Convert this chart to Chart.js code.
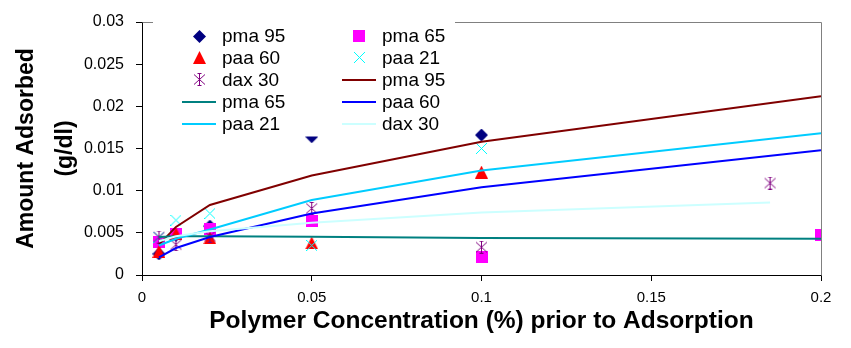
<!DOCTYPE html>
<html>
<head>
<meta charset="utf-8">
<script src="https://cdn.jsdelivr.net/npm/chart.js@4/dist/chart.umd.min.js"></script>
<style>
  html, body { margin: 0; padding: 0; background: #ffffff; }
  canvas { display: block; }
</style>
</head>
<body>
<canvas id="chart" width="851" height="348"></canvas>
<script>
// Measured adsorption (markers)
const ptsX      = [0.005, 0.01, 0.02, 0.05, 0.1];
const pma95Pts  = [0.0025, 0.0047, 0.0058, 0.0164, 0.0166];
const pma65X    = [0.005, 0.01, 0.02, 0.05, 0.1, 0.2];
const pma65Pts  = [0.0039, 0.0049, 0.0055, 0.0064, 0.0021, 0.0048];
const paa60Pts  = [0.0028, 0.0049, 0.0044, 0.0038, 0.0122];
const paa21Pts  = [0.0045, 0.0065, 0.0073, 0.0035, 0.0150];
const dax30X    = [0.005, 0.01, 0.02, 0.05, 0.1, 0.185];
const dax30Pts  = [0.0045, 0.0036, 0.0046, 0.0079, 0.0033, 0.0109];

// Fitted isotherms (lines)
const fitX      = [0.005, 0.01, 0.02, 0.05, 0.1, 0.2];
const pma95Fit  = [0.0036, 0.0057, 0.0083, 0.0118, 0.0158, 0.0212];
const pma65Fit  = [0.0045, 0.0046, 0.0046, 0.00455, 0.0044, 0.0043];
const paa60Fit  = [0.0021, 0.0032, 0.0045, 0.0073, 0.0104, 0.0148];
const paa21Fit  = [0.0035, 0.0043, 0.0054, 0.0089, 0.0124, 0.0168];
const dax30FitX = [0.005, 0.01, 0.02, 0.05, 0.1, 0.185];
const dax30Fit  = [0.0040, 0.0046, 0.0052, 0.0062, 0.0074, 0.0086];

// Axis ticks
const xTicks = [0, 0.05, 0.1, 0.15, 0.2];
const xTickLabels = ['0', '0.05', '0.1', '0.15', '0.2'];
const yTicks = [0, 0.005, 0.01, 0.015, 0.02, 0.025, 0.03];
const yTickLabels = ['0', '0.005', '0.01', '0.015', '0.02', '0.025', '0.03'];

const FONT = "'Liberation Sans', Arial, Helvetica, sans-serif";

// Marker bitmaps
function marker(kind, color) {
  const c = document.createElement('canvas');
  const g = c.getContext('2d');
  if (kind === 'diamond') {
    c.width = 13; c.height = 13;
    g.fillStyle = color;
    g.beginPath();
    g.moveTo(6.5, 0); g.lineTo(13, 6.5); g.lineTo(6.5, 13); g.lineTo(0, 6.5);
    g.closePath(); g.fill();
  } else if (kind === 'square') {
    c.width = 12; c.height = 12;
    g.fillStyle = color;
    g.fillRect(0, 0, 12, 12);
  } else if (kind === 'triangle') {
    c.width = 13; c.height = 13;
    g.fillStyle = color;
    g.beginPath();
    g.moveTo(6.5, 0); g.lineTo(13, 13); g.lineTo(0, 13);
    g.closePath(); g.fill();
  } else if (kind === 'x') {
    c.width = 11; c.height = 11;
    g.strokeStyle = color; g.lineWidth = 1;
    g.beginPath();
    g.moveTo(0, 0); g.lineTo(11, 11);
    g.moveTo(11, 0); g.lineTo(0, 11);
    g.stroke();
  } else if (kind === 'star') {
    c.width = 13; c.height = 13;
    g.strokeStyle = color; g.lineWidth = 1;
    g.beginPath();
    g.moveTo(6.5, 0); g.lineTo(6.5, 13);
    g.moveTo(1, 1.5); g.lineTo(12, 11.5);
    g.moveTo(12, 1.5); g.lineTo(1, 11.5);
    g.moveTo(4.5, 0.5); g.lineTo(8.5, 0.5);
    g.moveTo(4.5, 12.5); g.lineTo(8.5, 12.5);
    g.stroke();
  }
  return c;
}

function pts(xs, ys) { return xs.map((x, i) => ({ x: x, y: ys[i] })); }

function scatterSet(label, xs, ys, kind, color, order) {
  return {
    label: label, data: pts(xs, ys), showLine: false,
    pointStyle: marker(kind, color), pointRadius: 6, pointHoverRadius: 6,
    backgroundColor: color, borderColor: color, order: order,
    legendKind: 'marker'
  };
}
function lineSet(label, xs, ys, color, order) {
  return {
    label: label, data: pts(xs, ys), showLine: true, tension: 0,
    borderColor: color, backgroundColor: color, borderWidth: 2,
    pointRadius: 0, pointHoverRadius: 0, fill: false, order: order,
    legendKind: 'line'
  };
}

const datasets = [
  scatterSet('pma 95', ptsX, pma95Pts, 'diamond', '#000080', 10),
  scatterSet('pma 65', pma65X, pma65Pts, 'square', '#FF00FF', 9),
  scatterSet('paa 60', ptsX, paa60Pts, 'triangle', '#FF0000', 8),
  scatterSet('paa 21', ptsX, paa21Pts, 'x', '#00FFFF', 7),
  scatterSet('dax 30', dax30X, dax30Pts, 'star', '#800080', 6),
  lineSet('pma 95', fitX, pma95Fit, '#800000', 5),
  lineSet('pma 65', fitX, pma65Fit, '#008080', 4),
  lineSet('paa 60', fitX, paa60Fit, '#0000FF', 3),
  lineSet('paa 21', fitX, paa21Fit, '#00CCFF', 2),
  lineSet('dax 30', dax30FitX, dax30Fit, '#CCFFFF', 1)
];

// Gray frame on the top and right of the plot area
const frame = {
  id: 'frame',
  beforeDatasetsDraw(chart) {
    const { ctx, chartArea: a } = chart;
    ctx.save();
    ctx.strokeStyle = '#808080';
    ctx.lineWidth = 1;
    ctx.beginPath();
    ctx.moveTo(Math.round(a.left) + 0.5, Math.round(a.top) + 0.5);
    ctx.lineTo(Math.round(a.right) + 0.5, Math.round(a.top) + 0.5);
    ctx.lineTo(Math.round(a.right) + 0.5, Math.round(a.bottom) + 0.5);
    ctx.stroke();
    ctx.restore();
  }
};

// Two-column legend inside the plot area
const innerLegend = {
  id: 'innerLegend',
  afterDatasetsDraw(chart) {
    const ctx = chart.ctx;
    const box = { x: 153, y: 16, w: 302, h: 120.5 };
    const rowY0 = 36, rowGap = 21.9, colGap = 160;
    const markX = 199, lineX0 = 182, lineX1 = 216, textX = 222;
    ctx.save();
    ctx.fillStyle = '#ffffff';
    ctx.fillRect(box.x, box.y, box.w, box.h);
    ctx.font = '19px ' + FONT;
    ctx.textBaseline = 'middle';
    ctx.textAlign = 'left';
    chart.data.datasets.forEach((ds, i) => {
      const row = Math.floor(i / 2), col = i % 2;
      const y = rowY0 + row * rowGap;
      const dx = col * colGap;
      if (ds.legendKind === 'marker') {
        const img = ds.pointStyle;
        ctx.drawImage(img, Math.round(markX + dx - img.width / 2), Math.round(y - img.height / 2));
      } else {
        ctx.strokeStyle = ds.borderColor;
        ctx.lineWidth = 2;
        ctx.beginPath();
        ctx.moveTo(lineX0 + dx, Math.round(y));
        ctx.lineTo(lineX1 + dx, Math.round(y));
        ctx.stroke();
      }
      ctx.fillStyle = '#000000';
      ctx.fillText(ds.label, textX + dx, y + 1);
    });
    ctx.restore();
  }
};

new Chart(document.getElementById('chart'), {
  type: 'scatter',
  data: { datasets: datasets },
  options: {
    responsive: false,
    animation: false,
    devicePixelRatio: 1,
    layout: { padding: { top: 22, right: 30, left: 0, bottom: 0 } },
    plugins: {
      legend: { display: false },
      tooltip: { enabled: false }
    },
    scales: {
      x: {
        type: 'linear', min: 0, max: 0.2,
        afterFit(scale) { scale.height = 73; },
        afterBuildTicks(scale) { scale.ticks = xTicks.map(v => ({ value: v })); },
        ticks: {
          color: '#000', padding: 8,
          font: { family: FONT, size: 15 },
          callback: (v) => xTickLabels[xTicks.indexOf(v)]
        },
        grid: { drawOnChartArea: false, drawTicks: true, tickLength: 6, color: '#000' },
        border: { display: true, color: '#000', width: 1 },
        title: {
          display: true, text: 'Polymer Concentration (%) prior to Adsorption', color: '#000',
          font: { family: FONT, size: 24.5, weight: 'bold', lineHeight: 1.2 },
          padding: { top: 0, bottom: 12.3 }
        }
      },
      y: {
        type: 'linear', min: 0, max: 0.03,
        afterFit(scale) { scale.width = 142; },
        afterBuildTicks(scale) { scale.ticks = yTicks.map(v => ({ value: v })); },
        ticks: {
          color: '#000', padding: 12,
          font: { family: FONT, size: 16 },
          callback: (v) => yTickLabels[yTicks.indexOf(v)]
        },
        grid: { drawOnChartArea: false, drawTicks: true, tickLength: 6, color: '#000' },
        border: { display: true, color: '#000', width: 1 },
        title: {
          display: true, text: ['Amount Adsorbed', '(g/dl)'], color: '#000',
          font: { family: FONT, size: 23, weight: 'bold', lineHeight: 1.7 },
          padding: { top: 7, bottom: 0 }
        }
      }
    }
  },
  plugins: [frame, innerLegend]
});
</script>
</body>
</html>
